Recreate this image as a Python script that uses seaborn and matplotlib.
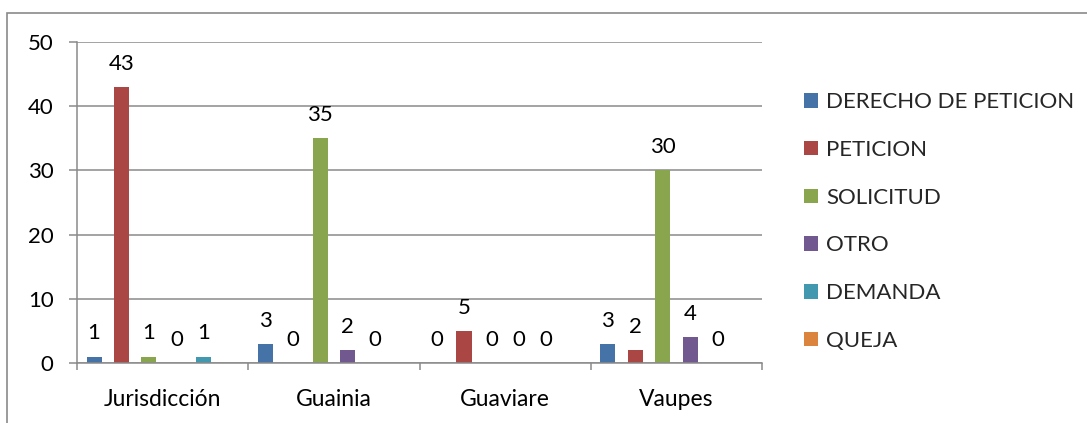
import matplotlib
matplotlib.use("Agg")
import matplotlib.pyplot as plt
from matplotlib.patches import Patch, Rectangle
from matplotlib.ticker import FixedLocator, MultipleLocator
import pandas as pd
import seaborn as sns

# Requests by region and type
categories = ["Jurisdicción", "Guainia", "Guaviare", "Vaupes"]
series = ["DERECHO DE PETICION", "PETICION", "SOLICITUD", "OTRO", "DEMANDA", "QUEJA"]
derecho_de_peticion = [1, 3, 0, 3]
peticion = [43, 0, 5, 2]
solicitud = [1, 35, 0, 30]
otro = [0, 2, 0, 4]
demanda = [1, 0, 0, 0]
queja = [None, None, None, None]
y_ticks = [0, 10, 20, 30, 40, 50]

colors = ["#4572A7", "#AA4643", "#89A54E", "#71588F", "#4198AF", "#DB843D"]
GRID = "#8a8a8a"
FONT = "Lato"
FS = 16

values_by_series = [derecho_de_peticion, peticion, solicitud, otro, demanda, queja]
rows = []
for name, vals in zip(series, values_by_series):
    for cat, v in zip(categories, vals):
        if v is not None:
            rows.append({"region": cat, "tipo": name, "cantidad": v})
df = pd.DataFrame(rows)

sns.set_theme(style="white")
plt.rcParams["font.family"] = [FONT, "DejaVu Sans"]

fig = plt.figure(figsize=(10.87, 4.23), dpi=100)
ax = fig.add_axes([77 / 1087, 60 / 423, (762 - 77) / 1087, (363 - 42) / 423])

sns.barplot(data=df, x="region", y="cantidad", hue="tipo", order=categories,
            hue_order=series, palette=colors, saturation=1, width=0.96, gap=0.45,
            linewidth=0, legend=False, ax=ax)

# value labels above each drawn bar
for cont in ax.containers:
    ax.bar_label(cont, labels=[f"{int(b.get_height())}" for b in cont],
                 padding=9.5, fontsize=FS, color="black", family=[FONT, "DejaVu Sans"])

ax.set_xlim(-0.5, len(categories) - 0.5)
ax.set_ylim(0, 50)
ax.yaxis.set_major_locator(FixedLocator(y_ticks))
ax.set_xlabel("")
ax.set_ylabel("")

ax.grid(axis="y", color=GRID, linewidth=1.1)
ax.grid(axis="x", visible=False)
ax.set_axisbelow(True)
for s in ["top", "right"]:
    ax.spines[s].set_visible(False)
for s in ["left", "bottom"]:
    ax.spines[s].set_color(GRID)
    ax.spines[s].set_linewidth(1.1)

ax.tick_params(axis="y", which="major", length=5.8, width=1.1, color=GRID,
               pad=11, labelsize=FS, labelcolor="black", left=True)
ax.tick_params(axis="x", which="major", length=0, pad=18.5, labelsize=FS + 0.5,
               labelcolor="black")
ax.xaxis.set_minor_locator(MultipleLocator(1, offset=0.5))
ax.tick_params(axis="x", which="minor", length=5, width=1.1, color=GRID,
               direction="out", bottom=True)

handles = [Patch(facecolor=c, edgecolor="none", label=s) for c, s in zip(colors, series)]
fig.legend(handles=handles, loc="center left", bbox_to_anchor=(804 / 1087, 1 - 221.5 / 423),
           frameon=False, fontsize=FS, handlelength=0.63, handleheight=0.63,
           handletextpad=0.36, labelspacing=1.25, borderpad=0, borderaxespad=0)

# chart frame
fig.patches.append(Rectangle((7 / 1087, -0.1), 1.2, 1.1 - 13 / 423,
                             transform=fig.transFigure, fill=False,
                             edgecolor=GRID, linewidth=1.2))

fig.savefig("out.png", dpi=100)
